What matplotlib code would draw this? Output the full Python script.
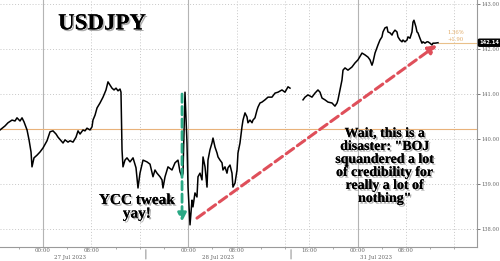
import numpy as np
import matplotlib.pyplot as plt
import matplotlib.patheffects as pe

# hours from 27 Jul 00:00 (weekend compressed), USDJPY price
h1 = [-7.11, -6.28, -5.79, -5.12, -4.63, -4.30, -3.80, -3.47, -3.14, -2.64, -2.31, -1.98, -1.82, -1.49, -0.99,
      -0.50, 0.00, 0.66, 1.16, 1.65, 2.15, 2.48, 2.98, 3.31, 3.64, 4.13, 4.46, 4.96, 5.45, 5.79,
      6.12, 6.61, 6.94, 7.27, 7.77, 8.10, 8.26, 8.60, 8.93, 9.42, 9.92, 10.41, 10.74, 11.07, 11.40,
      11.74, 12.07, 12.40, 12.73, 12.89, 13.06, 13.22, 13.55, 13.88, 14.38, 14.88, 15.37, 15.70, 16.03, 16.53,
      17.19, 17.69, 18.18, 18.51, 18.84, 19.34, 19.67, 19.83, 20.17, 20.66, 21.32, 21.82, 22.31, 22.64, 22.98,
      23.14, 23.47, 23.80, 23.97, 24.30, 24.63, 24.79, 25.12, 25.45, 25.62, 25.95, 26.28, 26.45, 26.78, 27.11,
      27.27, 27.60, 27.93, 28.10, 28.43, 28.76, 28.93, 29.26, 29.59, 29.75, 30.08, 30.41, 30.58, 30.91, 31.24,
      31.40, 31.74, 32.07, 32.23, 32.56, 32.89, 33.06, 33.39, 33.72, 33.88, 34.21, 34.55, 34.71, 35.04, 35.37,
      35.54, 35.87, 36.20, 36.69, 37.19, 37.85, 38.35, 38.84, 39.50, 40.00, 40.50, 40.83]
p1 = [140.20, 140.29, 140.36, 140.42, 140.40, 140.47, 140.40, 140.47, 140.38, 140.20, 139.98, 139.71, 139.38, 139.58, 139.64,
      139.71, 139.80, 139.96, 140.16, 140.18, 140.11, 140.04, 139.96, 139.91, 139.98, 139.93, 139.96, 139.93, 140.04, 140.18,
      140.11, 140.20, 140.18, 140.24, 140.20, 140.27, 140.42, 140.53, 140.69, 140.80, 140.93, 141.09, 141.27, 141.20, 141.13,
      141.09, 141.13, 141.07, 141.11, 141.04, 139.76, 139.38, 139.53, 139.58, 139.49, 139.58, 139.36, 138.91, 139.24, 139.53,
      139.49, 139.44, 139.16, 139.31, 139.24, 139.16, 139.09, 138.91, 139.16, 139.38, 139.31, 139.47, 139.53, 139.27, 139.16,
      139.24, 141.04, 139.91, 138.93, 138.09, 138.64, 138.49, 138.80, 138.71, 139.16, 139.24, 139.09, 139.60, 139.38, 138.93,
      139.53, 139.76, 139.91, 140.02, 139.82, 139.69, 139.60, 139.53, 139.47, 139.31, 139.38, 139.24, 139.36, 139.42, 139.24,
      138.93, 139.02, 139.31, 139.69, 139.91, 140.27, 140.42, 140.58, 140.49, 140.36, 140.42, 140.36, 140.42, 140.47, 140.64,
      140.71, 140.80, 140.82, 140.87, 140.93, 140.93, 141.02, 141.04, 141.09, 141.04, 141.16, 141.13]
h2 = [42.98, 43.31, 43.80, 44.46, 44.96, 45.45, 45.79, 46.12, 46.61, 47.11, 47.77, 48.26, 48.60, 48.76, 49.09,
      49.42, 49.59, 49.92, 50.41, 51.07, 51.57, 52.07, 52.73, 53.22, 53.72, 54.05, 54.38, 54.55, 54.88, 55.37,
      55.70, 56.03, 56.20, 56.53, 56.86, 57.02, 57.36, 57.69, 57.85, 58.18, 58.51, 58.68, 59.01, 59.34, 59.50,
      59.83, 60.17, 60.33, 60.66, 60.99, 61.16, 61.32, 61.65, 61.82, 61.98, 62.31, 62.64, 62.81, 63.14, 63.47,
      63.64, 63.97, 64.30, 64.46, 64.79, 65.29]
p2 = [140.87, 140.93, 140.98, 140.93, 141.02, 141.09, 141.04, 140.91, 140.87, 140.82, 140.80, 140.73, 140.80, 140.87, 141.09,
      141.31, 141.53, 141.58, 141.53, 141.60, 141.69, 141.76, 141.91, 141.87, 141.82, 141.76, 141.64, 141.71, 141.91, 142.09,
      142.20, 142.27, 142.38, 142.47, 142.49, 142.38, 142.36, 142.31, 142.36, 142.42, 142.38, 142.27, 142.20, 142.16, 142.20,
      142.16, 142.20, 142.27, 142.24, 142.38, 142.60, 142.64, 142.49, 142.38, 142.36, 142.24, 142.13, 142.16, 142.13, 142.16,
      142.16, 142.13, 142.09, 142.13, 142.13, 142.14]

prev_close = 140.22
last = 142.14
tick_pos = [0, 8, 24, 32, 44, 52, 60]
tick_lab = ['00:00', '08:00', '00:00', '08:00', '16:00', '00:00', '08:00']
date_pos = [4.5, 28.9, 55.0]
date_lab = ['27 Jul 2023', '28 Jul 2023', '31 Jul 2023']
y_ticks = [138, 139, 140, 141, 142, 143]

fig = plt.figure(figsize=(5, 2.61), dpi=100)
ax = fig.add_axes([0, 0.054, 0.954, 0.946])
ax.set_xlim(-7.11, 71.74)
ax.set_ylim(137.6, 143.09)

# grid
for y in y_ticks:
    ax.axhline(y, color='#c8c8c8', lw=0.7, ls=(0, (1, 2)), zorder=0)
for x in [8, 16, 32, 40, 44, 60, 68]:
    ax.axvline(x, color='#c8c8c8', lw=0.7, ls=(0, (1, 2)), zorder=0)
for x in [0, 24, 52]:
    ax.axvline(x, color='#b4b4b4', lw=0.8, zorder=0)

ax.axhline(prev_close, color='#e9b27a', lw=0.8, zorder=1)
ax.plot([65.3, 71.74], [last, last], color='#e9c08a', lw=0.8, zorder=1)
ax.text(66.8, 142.36, '1.36%', color='#e0a862', fontsize=3.8, ha='left', va='center', family='DejaVu Serif')
ax.text(66.8, 142.22, '+1.90', color='#e0a862', fontsize=3.8, ha='left', va='center', family='DejaVu Serif')

ax.plot(h1, p1, color='black', lw=1.1, zorder=3)
ax.plot(h2, p2, color='black', lw=1.1, zorder=3)

# spines / ticks
for s in ['left', 'top']:
    ax.spines[s].set_visible(False)
for s in ['right', 'bottom']:
    ax.spines[s].set_color('#9a9a9a')
    ax.spines[s].set_linewidth(0.8)
ax.yaxis.tick_right()
ax.set_yticks(y_ticks)
ax.set_yticklabels(['%.2f' % v for v in y_ticks], fontsize=3.7, color='#666666', family='DejaVu Serif')
ax.tick_params(axis='y', length=2, width=0.6, color='#666666', pad=0.8)
ax.set_xticks(tick_pos)
ax.set_xticklabels(tick_lab, fontsize=4, color='#666666', family='DejaVu Serif')
ax.set_xticks(np.arange(-4, 72, 4), minor=True)
ax.tick_params(axis='x', which='major', length=0, pad=0.8)
ax.tick_params(axis='x', which='minor', length=1.5, width=0.5, color='#888888')
for d, lab in zip(date_pos, date_lab):
    ax.annotate(lab, (d, 0), xycoords=('data', 'axes fraction'), xytext=(0, -7.3), textcoords='offset points',
                ha='center', va='center', fontsize=4, color='#666666', family='DejaVu Serif', annotation_clip=False)
for x in [17, 41]:
    ax.annotate('', (x, 0), xycoords=('data', 'axes fraction'), xytext=(x, -0.06),
                textcoords=('data', 'axes fraction'),
                arrowprops=dict(arrowstyle='-', color='#9a9a9a', lw=0.8), annotation_clip=False)

# last price tag
ax.annotate('142.14', (71.74, last), xytext=(1.8, 0), textcoords='offset points', ha='left', va='center',
            fontsize=3.7, color='white', fontweight='bold', family='DejaVu Sans', annotation_clip=False,
            bbox=dict(boxstyle='round,pad=0.2', fc='black', ec='black'))

shadow = [pe.withSimplePatchShadow(offset=(1.2, -1.2), shadow_rgbFace='#777777', alpha=0.6), pe.Normal()]
ax.text(9.75, 142.56, 'USDJPY', fontsize=16.5, fontweight='bold', family='Liberation Serif',
        ha='center', va='center', path_effects=shadow, zorder=5)
ax.text(15.5, 138.48, 'YCC tweak\nyay!', fontsize=11, fontweight='bold', family='Liberation Serif',
        ha='center', va='center', linespacing=1.05, path_effects=shadow, zorder=5)
ax.text(56.5, 139.4, 'Wait, this is a\ndisaster: "BOJ\nsquandered a lot\nof credibility for\nreally a lot of\nnothing"',
        fontsize=10, fontweight='bold', family='Liberation Serif', ha='center', va='center',
        linespacing=1.0, path_effects=shadow, zorder=5)

# arrows
ax.annotate('', xy=(22.98, 138.16), xytext=(22.98, 141.0),
            arrowprops=dict(arrowstyle='-|>,head_width=0.25,head_length=0.5', color='#2aa985', lw=2.0,
                            ls=(0, (3, 1.5)), shrinkA=0, shrinkB=0), zorder=4)
ax.annotate('', xy=(65.12, 142.09), xytext=(25.45, 138.24),
            arrowprops=dict(arrowstyle='-|>,head_width=0.25,head_length=0.5', color='#df4f5a', lw=2.2,
                            ls=(0, (3, 1.5)), shrinkA=0, shrinkB=0), zorder=4)

fig.savefig('out.png', dpi=100)
